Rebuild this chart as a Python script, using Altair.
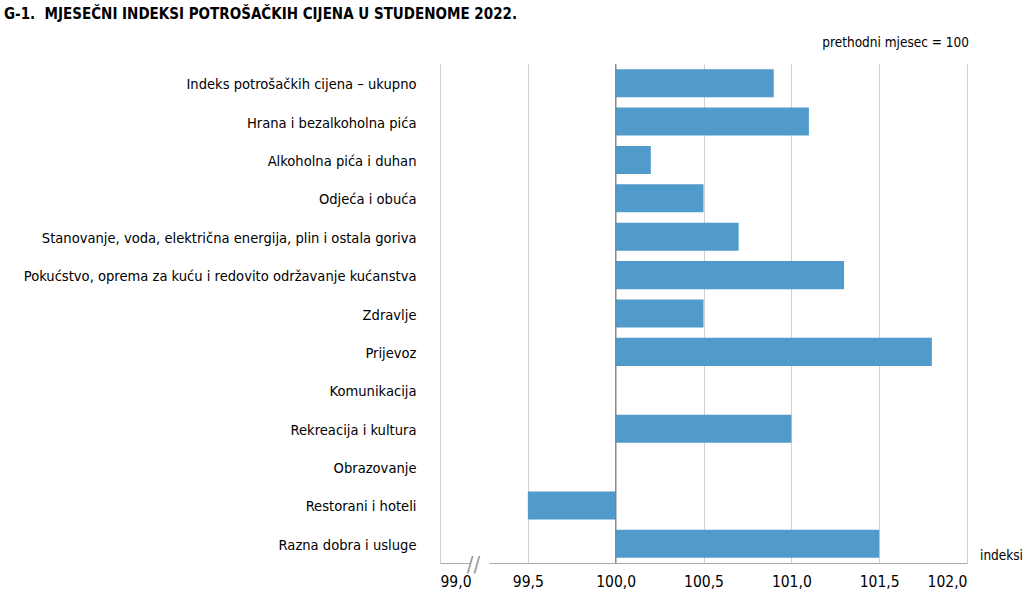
import altair as alt
import pandas as pd

categories = [
    "Indeks potrošačkih cijena – ukupno",
    "Hrana i bezalkoholna pića",
    "Alkoholna pića i duhan",
    "Odjeća i obuća",
    "Stanovanje, voda, električna energija, plin i ostala goriva",
    "Pokućstvo, oprema za kuću i redovito održavanje kućanstva",
    "Zdravlje",
    "Prijevoz",
    "Komunikacija",
    "Rekreacija i kultura",
    "Obrazovanje",
    "Restorani i hoteli",
    "Razna dobra i usluge",
]
values = [100.9, 101.1, 100.2, 100.5, 100.7, 101.3, 100.5, 101.8, 100.0, 101.0, 100.0, 99.5, 101.5]
tick_values = [99.0, 99.5, 100.0, 100.5, 101.0, 101.5, 102.0]
base_value = 100.0

title_text = "G-1.\u00a0\u00a0MJESEČNI INDEKSI POTROŠAČKIH CIJENA U STUDENOME 2022."
subtitle_text = "prethodni mjesec = 100"
unit_text = "indeksi"

FONT = "Liberation Sans Narrow, DejaVu Sans Condensed, sans-serif"
W, H = 527, 499

df = pd.DataFrame({"cat": categories, "val": values, "base": [base_value] * len(values)})

xscale = alt.Scale(domain=[99.0, 102.0], nice=False, zero=False)
yscale = alt.Scale(domain=categories, paddingInner=0.27, paddingOuter=0.135)

bars = alt.Chart(df).mark_bar(color="#519bcc").encode(
    x=alt.X("val:Q", scale=xscale, axis=alt.Axis(
        values=tick_values, title=None, grid=True, gridColor="#d0d0d0",
        ticks=False, domainColor="#aaaaaa", labelFont=FONT, labelFontSize=15.5,
        labelColor="#000000", labelPadding=11,
        labelExpr="replace(format(datum.value, '.1f'), '.', ',')")),
    x2="base:Q",
    y=alt.Y("cat:N", scale=yscale, sort=categories, axis=alt.Axis(
        title=None, domain=False, ticks=False, labelFont=FONT, labelFontSize=14.6,
        labelColor="#000000", labelPadding=24, labelLimit=420, labelOffset=2)),
)

zero = alt.Chart(pd.DataFrame({"x": [base_value]})).mark_rule(color="#777777", strokeWidth=1).encode(
    x=alt.X("x:Q", scale=xscale)
)

brk = pd.DataFrame({"x": [99.17]})
gap = alt.Chart(brk).mark_rect(color="white").encode(
    x=alt.X("x:Q", scale=xscale), x2=alt.datum(99.28),
    y=alt.value(H - 4), y2=alt.value(H + 4),
)
slash = alt.Chart(brk).mark_text(text="//", font=FONT, fontSize=22, color="#999999", align="left", dx=-3).encode(
    x=alt.X("x:Q", scale=xscale), y=alt.value(H + 2),
)

title = alt.Chart(pd.DataFrame({"t": [title_text]})).mark_text(
    font=FONT, fontSize=15, fontWeight="bold", align="left", baseline="middle", color="#000000"
).encode(text="t:N", x=alt.value(-436), y=alt.value(-50))

sub = alt.Chart(pd.DataFrame({"t": [subtitle_text]})).mark_text(
    font=FONT, fontSize=13.5, align="right", baseline="middle", color="#000000"
).encode(text="t:N", x=alt.value(W + 2), y=alt.value(-21))

unit = alt.Chart(pd.DataFrame({"t": [unit_text]})).mark_text(
    font=FONT, fontSize=13.5, align="left", baseline="middle", color="#000000"
).encode(text="t:N", x=alt.value(W + 13), y=alt.value(H - 7))

chart = alt.layer(bars, zero, gap, slash, title, sub, unit).properties(
    width=W, height=H,
    autosize=alt.AutoSizeParams(type="none"),
    padding={"left": 440, "top": 64, "right": 57, "bottom": 31},
    background="white",
).configure_view(stroke=None)

chart.save("out.html", embed_options={"renderer": "svg", "actions": False})
